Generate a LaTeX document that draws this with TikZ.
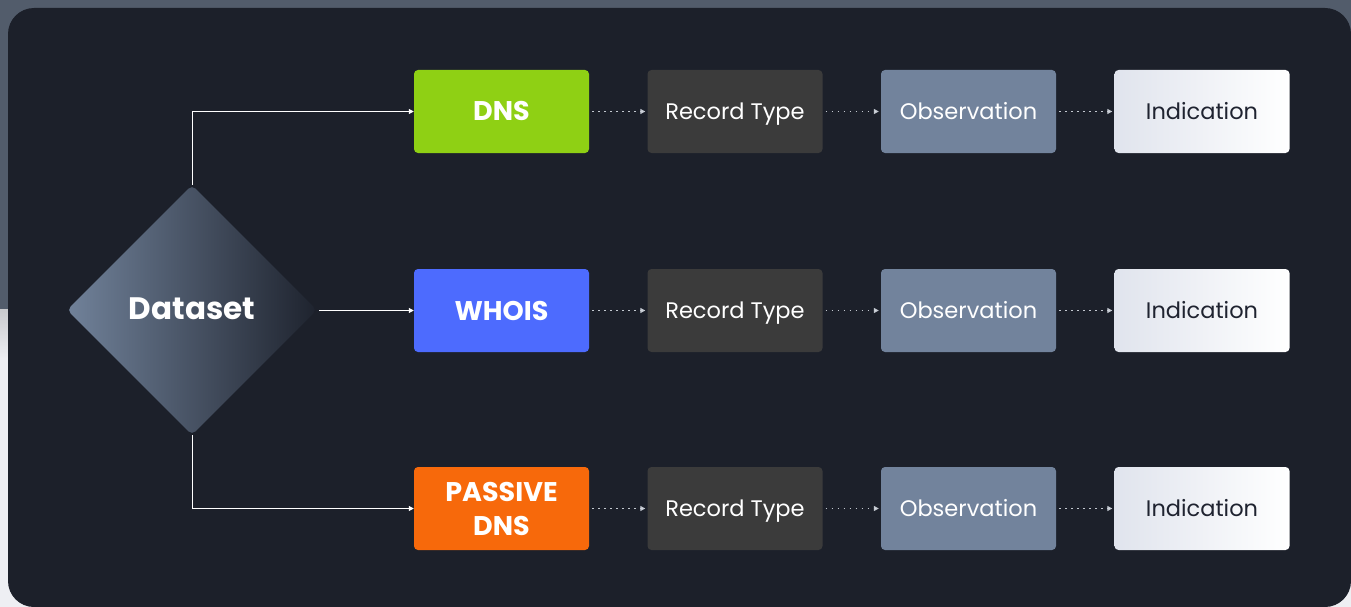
\documentclass[tikz,border=0pt]{standalone}
\usepackage{fontspec}
\setmainfont{Poppins}
\usetikzlibrary{shapes.geometric,arrows.meta}
\definecolor{bgtop}{HTML}{525C6B}
\definecolor{bglight}{HTML}{EEEFF3}
\definecolor{bgmid}{HTML}{C9CACE}
\definecolor{panel}{HTML}{1C202A}
\definecolor{dsleft}{HTML}{71829A}
\definecolor{dsright}{HTML}{1E232E}
\definecolor{dnsgreen}{HTML}{8FD014}
\definecolor{whoisblue}{HTML}{4D6BFE}
\definecolor{pdnsorange}{HTML}{F7690B}
\definecolor{recgray}{HTML}{3B3B3B}
\definecolor{obsgray}{HTML}{72839C}
\definecolor{indleft}{HTML}{E0E4ED}
\definecolor{indtext}{HTML}{1F2330}
\definecolor{dotcol}{HTML}{C3C8D0}
\tikzset{
  boxbase/.style={rectangle, rounded corners=4pt, minimum width=175pt, minimum height=83pt, inner sep=0pt, align=center},
  srcone/.style={boxbase, text=white, font=\fontsize{27}{34}\selectfont\bfseries, text height=19pt, text depth=0pt},
  srctwo/.style={boxbase, text=white, font=\fontsize{27}{34}\selectfont\bfseries},
  plainlab/.style={font=\fontsize{22.5}{28}\selectfont, text height=16pt, text depth=0pt},
  recbox/.style={boxbase, plainlab, fill=recgray, text=white},
  obsbox/.style={boxbase, plainlab, fill=obsgray, text=white},
  indbox/.style={boxbase, plainlab, left color=indleft, right color=white, text=indtext},
  conn/.style={draw=white, line width=1pt, -{Triangle[length=5pt,width=5pt]}},
  dotconn/.style={draw=dotcol, line width=1.2pt, dash pattern=on 1.3pt off 4.7pt, -{Triangle[length=5pt,width=5pt,fill=white]}, shorten <=3pt, shorten >=2pt},
}
\begin{document}
\begin{tikzpicture}[x=1pt,y=-1pt]
\useasboundingbox (0,0) rectangle (1351,607);
% background
\fill[bgtop] (0,0) rectangle (1351,309);
\shade[top color=bgmid, bottom color=bglight] (0,309) rectangle (1351,360);
\fill[bglight] (0,360) rectangle (1351,607);
\fill[panel, rounded corners=26pt] (8,8) rectangle (1351,607);
% dataset diamond
\node[diamond, aspect=1, minimum width=250pt, minimum height=250pt, inner sep=0pt,
      rounded corners=5pt, left color=dsleft, right color=dsright,
      text=white, font=\fontsize{31}{36}\selectfont\bfseries] (ds) at (192,310) {\raisebox{2pt}{Dataset}};
% rows
\foreach \r/\y/\nm/\col/\st/\lab in {1/111.5/dns/dnsgreen/srcone/DNS, 2/310.5/whois/whoisblue/srcone/WHOIS, 3/508.5/pdns/pdnsorange/srctwo/{PASSIVE\\DNS}} {
  \node[\st, fill=\col] (\nm) at (501.5,\y) {\lab};
  \node[recbox] (rt\r) at (735,\y) {Record Type};
  \node[obsbox] (ob\r) at (968.5,\y) {Observation};
  \node[indbox] (in\r) at (1202,\y) {Indication};
}
% connectors
\draw[conn] (ds.north) |- (dns.west);
\draw[conn, shorten <=2pt] (ds.east |- whois.west) -- (whois.west);
\draw[conn] (ds.south) |- (pdns.west);
\draw[dotconn] (dns.east) -- (rt1.west);
\draw[dotconn] (rt1.east) -- (ob1.west);
\draw[dotconn] (ob1.east) -- (in1.west);
\draw[dotconn] (whois.east) -- (rt2.west);
\draw[dotconn] (rt2.east) -- (ob2.west);
\draw[dotconn] (ob2.east) -- (in2.west);
\draw[dotconn] (pdns.east) -- (rt3.west);
\draw[dotconn] (rt3.east) -- (ob3.west);
\draw[dotconn] (ob3.east) -- (in3.west);
\end{tikzpicture}
\end{document}
